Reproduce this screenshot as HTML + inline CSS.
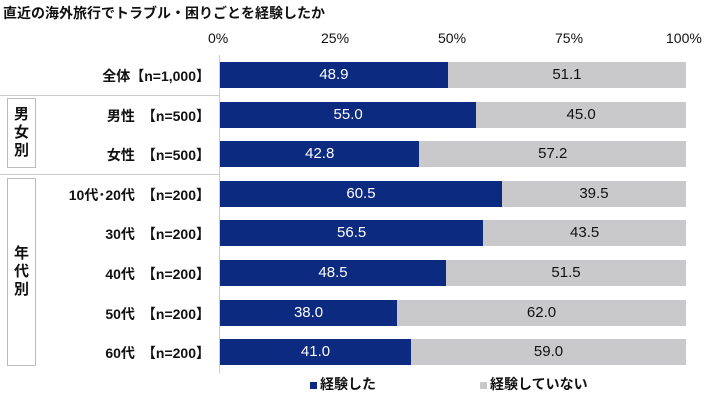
<!DOCTYPE html><html><head><meta charset="utf-8"><style>
body{margin:0;width:720px;height:411px;background:#fff;font-family:"Liberation Sans","Noto Sans CJK JP",sans-serif;font-weight:bold;color:#111;position:relative;overflow:hidden}
div{position:absolute}
.t{font-size:13px;white-space:nowrap}
.b{height:26px;line-height:26px;text-align:center;font-size:15px;font-weight:normal}
.bl{background:#0b2a80;color:#fff}.gr{background:#c9c9cb;color:#111}
.box{border:1px solid #bbb;left:7px;width:27px;text-align:center;font-size:15px;line-height:18px;display:flex;flex-direction:column;justify-content:center;align-items:center}
</style></head><body>
<div class="t" style="left:3px;top:3px;font-size:14px">直近の海外旅行でトラブル・困りごとを経験したか</div>
<div class="t" style="left:208px;top:30px;font-size:14px;font-weight:normal">0%</div>
<div class="t" style="left:321px;top:30px;font-size:14px;font-weight:normal">25%</div>
<div class="t" style="left:438px;top:30px;font-size:14px;font-weight:normal">50%</div>
<div class="t" style="left:555px;top:30px;font-size:14px;font-weight:normal">75%</div>
<div class="t" style="left:666px;top:30px;font-size:14px;font-weight:normal">100%</div>
<div style="left:219px;top:55px;width:1px;height:318px;background:#ccc"></div>
<div style="left:0;top:95px;width:219px;height:1px;background:#ccc"></div>
<div style="left:0;top:174px;width:219px;height:1px;background:#ccc"></div>
<div class="box" style="top:98px;height:68px">男<br>女<br>別</div>
<div class="box" style="top:178px;height:186px">年<br>代<br>別</div>
<div id="rows"></div>
<script>
var d=[["全体【n=1,000】",48.9],["男性　【n=500】",55.0],["女性　【n=500】",42.8],["10代･20代　【n=200】",60.5],["30代　【n=200】",56.5],["40代　【n=200】",48.5],["50代　【n=200】",38.0],["60代　【n=200】",41.0]];
var h="";d.forEach(function(r,i){var y=62+i*39.6,W=466,w=W*r[1]/100;
h+='<div class="t" style="right:510px;top:'+(y+4)+'px;font-size:14px">'+r[0]+'</div>';
h+='<div class="b bl" style="left:220px;top:'+y+'px;width:'+w+'px">'+r[1].toFixed(1)+'</div>';
h+='<div class="b gr" style="left:'+(220+w)+'px;top:'+y+'px;width:'+(W-w)+'px">'+(100-r[1]).toFixed(1)+'</div>';});
document.getElementById("rows").outerHTML=h;
</script>
<div class="t" style="left:310px;top:374px;font-size:14px"><span style="display:inline-block;width:7px;height:7px;background:#0b2a80;margin-right:3px"></span>経験した</div>
<div class="t" style="left:480px;top:374px;font-size:14px"><span style="display:inline-block;width:7px;height:7px;background:#c9c9cb;margin-right:3px"></span>経験していない</div>
</body></html>
